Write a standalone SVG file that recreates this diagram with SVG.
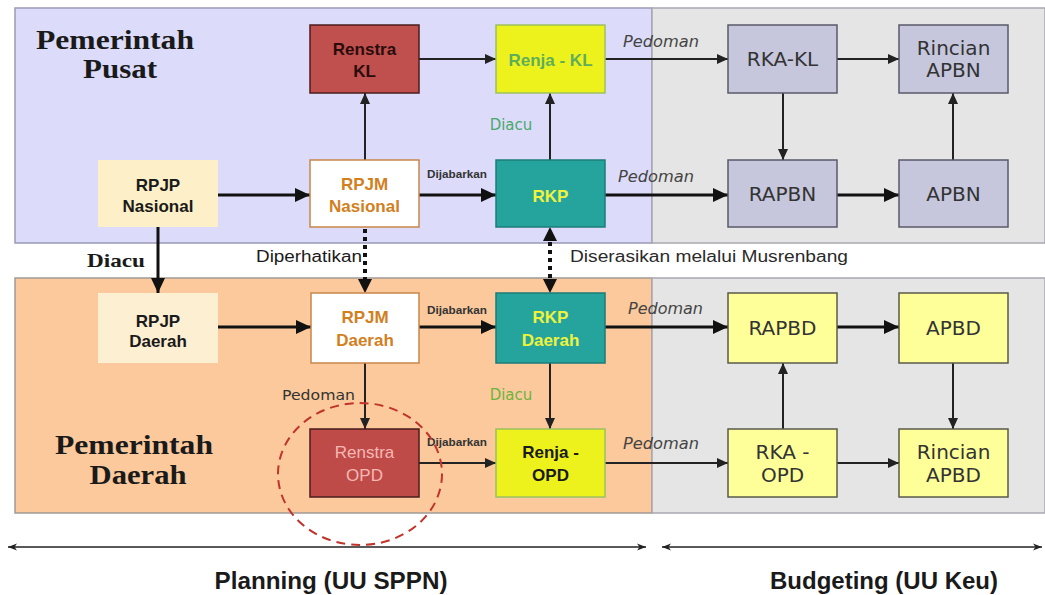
<svg xmlns="http://www.w3.org/2000/svg" width="1045" height="595" viewBox="0 0 1045 595">
<style>
.sans{font-family:"Liberation Sans",Arial,sans-serif}
.ver{font-family:"DejaVu Sans",Verdana,sans-serif}
.serif{font-family:"Liberation Serif","Times New Roman",serif;font-weight:bold;fill:#1a1a1a}
.nb{font-family:"Liberation Sans",Arial,sans-serif;font-weight:bold;font-size:17px;text-anchor:middle}
.bud{font-family:"DejaVu Sans",Verdana,sans-serif;font-size:20px;text-anchor:middle;fill:#333}
.ped{font-family:"DejaVu Sans",Verdana,sans-serif;font-style:italic;font-size:15px;fill:#444}
.dij{font-family:"Liberation Sans",Arial,sans-serif;font-weight:bold;font-size:11px;fill:#333}
.thick{stroke:#111;stroke-width:3;fill:none;marker-end:url(#big)}
.thin{stroke:#222;stroke-width:2;fill:none;marker-end:url(#small)}
.dot{stroke:#111;stroke-width:4;stroke-dasharray:4 4;fill:none}
.budtop{fill:#c6c6dd;stroke:#5a5a6a;stroke-width:1.5}
.budbot{fill:#ffff9a;stroke:#5a5a4a;stroke-width:1.5}
</style>
<defs>
<marker id="big" markerUnits="userSpaceOnUse" markerWidth="16" markerHeight="16" refX="15" refY="8" orient="auto"><path d="M0,1 L15,8 L0,15 z" fill="#111"/></marker>
<marker id="small" markerUnits="userSpaceOnUse" markerWidth="12" markerHeight="12" refX="11" refY="6" orient="auto"><path d="M0,1 L11,6 L0,11 z" fill="#222"/></marker>
<marker id="tiny" markerUnits="userSpaceOnUse" markerWidth="10" markerHeight="10" refX="9" refY="5" orient="auto"><path d="M0,1.5 L9,5 L0,8.5 L2.5,5 z" fill="#222"/></marker>
<marker id="tinyS" markerUnits="userSpaceOnUse" markerWidth="10" markerHeight="10" refX="0" refY="5" orient="auto"><path d="M9,1.5 L0,5 L9,8.5 L6.5,5 z" fill="#222"/></marker>
</defs>
<rect width="1045" height="595" fill="#ffffff"/>
<g id="panels">
<rect x="15" y="8" width="637" height="235" fill="#dcdcfa" stroke="#9a9ab6" stroke-width="1.5"/>
<rect x="652" y="8" width="393" height="235" fill="#e5e5e5" stroke="#a8a8b0" stroke-width="1.5"/>
<rect x="15" y="278" width="637" height="235" fill="#fbc99c" stroke="#a09a96" stroke-width="1.5"/>
<rect x="652" y="278" width="393" height="235" fill="#e5e5e5" stroke="#a8a8b0" stroke-width="1.5"/>
<text class="serif" font-size="27" x="115" y="49" text-anchor="middle" textLength="158" lengthAdjust="spacingAndGlyphs">Pemerintah</text>
<text class="serif" font-size="27" x="120" y="78" text-anchor="middle" textLength="74" lengthAdjust="spacingAndGlyphs">Pusat</text>
<text class="serif" font-size="27" x="134" y="454" text-anchor="middle" textLength="158" lengthAdjust="spacingAndGlyphs">Pemerintah</text>
<text class="serif" font-size="27" x="138" y="484" text-anchor="middle" textLength="97" lengthAdjust="spacingAndGlyphs">Daerah</text>
</g>
<g id="connectors">
<line class="thick" x1="218" y1="195" x2="310" y2="195"/>
<line class="thin" x1="365" y1="160" x2="365" y2="93"/>
<line class="thin" x1="419" y1="59" x2="496" y2="59"/>
<line class="thick" x1="419" y1="195" x2="496" y2="195"/>
<line class="thin" x1="550" y1="160" x2="550" y2="93"/>
<line class="thin" x1="605" y1="59" x2="728" y2="59"/>
<line class="thick" x1="605" y1="195" x2="728" y2="195"/>
<line class="thin" x1="783" y1="93" x2="783" y2="160"/>
<line class="thick" x1="837" y1="195" x2="899" y2="195"/>
<line class="thin" x1="953" y1="160" x2="953" y2="93"/>
<line class="thin" x1="837" y1="59" x2="899" y2="59"/>
<line class="thick" x1="158" y1="227" x2="158" y2="293"/>
<line class="dot" x1="365" y1="229" x2="365" y2="280"/>
<path d="M358,279 L365,293 L372,279 z" fill="#111"/>
<line class="dot" x1="550" y1="242" x2="550" y2="280"/>
<path d="M543,241 L550,227 L557,241 z" fill="#111"/>
<path d="M543,279 L550,293 L557,279 z" fill="#111"/>
<line class="thick" x1="218" y1="327" x2="311" y2="327"/>
<line class="thick" x1="419" y1="327" x2="496" y2="327"/>
<line class="thick" x1="605" y1="327" x2="728" y2="327"/>
<line class="thick" x1="837" y1="327" x2="899" y2="327"/>
<line class="thin" x1="365" y1="363" x2="365" y2="429"/>
<line class="thin" x1="550" y1="363" x2="550" y2="429"/>
<line class="thin" x1="419" y1="463" x2="496" y2="463"/>
<line class="thin" x1="605" y1="463" x2="728" y2="463"/>
<line class="thin" x1="783" y1="429" x2="783" y2="363"/>
<line class="thin" x1="953" y1="363" x2="953" y2="429"/>
<line class="thin" x1="837" y1="463" x2="899" y2="463"/>
<line x1="8" y1="547" x2="646" y2="547" stroke="#222" stroke-width="1.5" marker-start="url(#tinyS)" marker-end="url(#tiny)"/>
<line x1="662" y1="547" x2="1042" y2="547" stroke="#222" stroke-width="1.5" marker-start="url(#tinyS)" marker-end="url(#tiny)"/>
</g>
<g id="labels">
<text class="dij" x="457" y="178" text-anchor="middle" textLength="60" lengthAdjust="spacingAndGlyphs">Dijabarkan</text>
<text class="dij" x="457" y="314" text-anchor="middle" textLength="60" lengthAdjust="spacingAndGlyphs">Dijabarkan</text>
<text class="dij" x="457" y="446" text-anchor="middle" textLength="60" lengthAdjust="spacingAndGlyphs">Dijabarkan</text>
<text class="ver" x="511" y="130" font-size="15" fill="#4aa86a" text-anchor="middle">Diacu</text>
<text class="ver" x="511" y="400" font-size="15" fill="#6cb43c" text-anchor="middle">Diacu</text>
<text class="ped" x="623" y="47" textLength="76" lengthAdjust="spacingAndGlyphs">Pedoman</text>
<text class="ped" x="618" y="182" font-size="16" textLength="76" lengthAdjust="spacingAndGlyphs">Pedoman</text>
<text class="ped" x="628" y="314" textLength="75" lengthAdjust="spacingAndGlyphs">Pedoman</text>
<text class="ped" x="623" y="449" textLength="76" lengthAdjust="spacingAndGlyphs">Pedoman</text>
<text class="ver" x="282" y="400" font-size="14" fill="#333" textLength="73" lengthAdjust="spacingAndGlyphs">Pedoman</text>
<text class="serif" font-size="19" x="87" y="267" textLength="58" lengthAdjust="spacingAndGlyphs">Diacu</text>
<text class="sans" x="256" y="262" font-size="16" fill="#1a1a1a" textLength="106" lengthAdjust="spacingAndGlyphs">Diperhatikan</text>
<text class="sans" x="570" y="262" font-size="16" fill="#2a2a2a" textLength="278" lengthAdjust="spacingAndGlyphs">Diserasikan melalui Musrenbang</text>
<text class="sans" x="331" y="589" font-size="24" font-weight="bold" fill="#1a1a1a" text-anchor="middle" textLength="233" lengthAdjust="spacingAndGlyphs">Planning (UU SPPN)</text>
<text class="sans" x="884" y="589" font-size="24" font-weight="bold" fill="#1a1a1a" text-anchor="middle" textLength="228" lengthAdjust="spacingAndGlyphs">Budgeting (UU Keu)</text>
</g>
<g id="node-renstra-kl"><rect x="310" y="25" width="109" height="68" fill="#c0504d" stroke="#4a1c1c" stroke-width="1.5"/><text class="nb" x="364.5" y="55" fill="#2a0c0c">Renstra</text><text class="nb" x="364.5" y="77" fill="#2a0c0c">KL</text></g>
<g id="node-renja-kl"><rect x="496" y="25" width="109" height="68" fill="#eef21c" stroke="#9cc060" stroke-width="1.5"/><text class="nb" x="550.5" y="66" fill="#5fae5a">Renja - KL</text></g>
<g id="node-rpjp-nasional"><rect x="98" y="160" width="120" height="67" fill="#fdf0c8"/><text class="nb" x="158" y="191" fill="#1a1a1a" font-size="16">RPJP</text><text class="nb" x="158" y="212" fill="#1a1a1a" font-size="16">Nasional</text></g>
<g id="node-rpjm-nasional"><rect x="310" y="160" width="109" height="67" fill="#ffffff" stroke="#c8864a" stroke-width="1.5"/><text class="nb" x="364.5" y="190" fill="#d2801e" font-size="18">RPJM</text><text class="nb" x="364.5" y="212" fill="#d2801e" font-size="18">Nasional</text></g>
<g id="node-rkp"><rect x="496" y="160" width="109" height="67" fill="#25a49e" stroke="#1d7c78" stroke-width="1.5"/><text class="nb" x="550.5" y="202" fill="#f2f23c" font-size="18">RKP</text></g>
<g id="node-rka-kl"><rect class="budtop" x="728" y="25" width="109" height="68"/><text class="bud" x="782.5" y="66">RKA-KL</text></g>
<g id="node-rincian-apbn"><rect class="budtop" x="899" y="25" width="109" height="68"/><text class="bud" x="953.5" y="55">Rincian</text><text class="bud" x="953.5" y="77">APBN</text></g>
<g id="node-rapbn"><rect class="budtop" x="728" y="160" width="109" height="67"/><text class="bud" x="782.5" y="201">RAPBN</text></g>
<g id="node-apbn"><rect class="budtop" x="899" y="160" width="109" height="67"/><text class="bud" x="953.5" y="201">APBN</text></g>
<g id="node-rpjp-daerah"><rect x="98" y="293" width="120" height="70" fill="#fdefd2"/><text class="nb" x="158" y="327" fill="#1a1a1a" font-size="16">RPJP</text><text class="nb" x="158" y="347" fill="#1a1a1a" font-size="16">Daerah</text></g>
<g id="node-rpjm-daerah"><rect x="311" y="293" width="108" height="70" fill="#ffffff" stroke="#c8864a" stroke-width="1.5"/><text class="nb" x="365" y="323" fill="#d2801e" font-size="18">RPJM</text><text class="nb" x="365" y="346" fill="#d2801e" font-size="18">Daerah</text></g>
<g id="node-rkp-daerah"><rect x="496" y="293" width="109" height="70" fill="#25a49e" stroke="#1d7c78" stroke-width="1.5"/><text class="nb" x="550.5" y="323" fill="#eef23c" font-size="18">RKP</text><text class="nb" x="550.5" y="346" fill="#eef23c" font-size="18">Daerah</text></g>
<g id="node-renstra-opd"><rect x="310" y="429" width="109" height="68" fill="#bf4b48" stroke="#4a1c1c" stroke-width="1.5"/><text class="sans" x="364.5" y="458" font-size="17" fill="#f4b8b4" text-anchor="middle">Renstra</text><text class="sans" x="364.5" y="481" font-size="17" fill="#f4b8b4" text-anchor="middle">OPD</text></g>
<g id="node-renja-opd"><rect x="496" y="429" width="109" height="68" fill="#eef21c" stroke="#9cc060" stroke-width="1.5"/><text class="nb" x="550.5" y="458" fill="#1a1a1a">Renja -</text><text class="nb" x="550.5" y="481" fill="#1a1a1a">OPD</text></g>
<g id="node-rapbd"><rect class="budbot" x="728" y="293" width="109" height="70"/><text class="bud" x="782.5" y="335">RAPBD</text></g>
<g id="node-apbd"><rect class="budbot" x="899" y="293" width="109" height="70"/><text class="bud" x="953.5" y="335">APBD</text></g>
<g id="node-rka-opd"><rect class="budbot" x="728" y="429" width="109" height="68"/><text class="bud" x="782.5" y="459">RKA -</text><text class="bud" x="782.5" y="482">OPD</text></g>
<g id="node-rincian-apbd"><rect class="budbot" x="899" y="429" width="109" height="68"/><text class="bud" x="953.5" y="459">Rincian</text><text class="bud" x="953.5" y="482">APBD</text></g>
<g id="highlight"><ellipse cx="360" cy="474" rx="82" ry="71" fill="none" stroke="#c0342c" stroke-width="2" stroke-dasharray="9 6"/></g>
</svg>
